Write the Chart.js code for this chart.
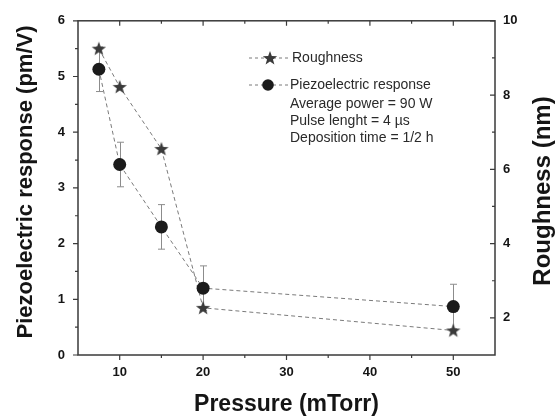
<!DOCTYPE html>
<html>
<head>
<meta charset="utf-8">
<script src="https://cdn.jsdelivr.net/npm/chart.js@4.4.1/dist/chart.umd.min.js"></script>
<style>
  html, body { margin: 0; padding: 0; background: #fff; }
  #wrap { width: 559px; height: 419px; }
</style>
</head>
<body>
<div id="wrap"><canvas id="chart" width="559" height="419"></canvas></div>
<script>
/* ─── Datos ───────────────────────────────────────── */
const pressure   = [7.5, 10, 15, 20, 50];          // mTorr
const piezo      = [5.13, 3.42, 2.3, 1.2, 0.87];   // pm/V
const piezoErr   = [0.4, 0.4, 0.4, 0.4, 0.4];
const roughness  = [9.25, 8.22, 6.55, 2.27, 1.66]; // nm

const xTicks  = [10, 20, 30, 40, 50];
const xMinor  = [15, 25, 35, 45];
const yTicks  = [0, 1, 2, 3, 4, 5, 6];
const yMinor  = [0.5, 1.5, 2.5, 3.5, 4.5, 5.5];
const rTicks  = [2, 4, 6, 8, 10];
const rMinor  = [3, 5, 7, 9];

const legendNotes = ['Average power = 90 W', 'Pulse lenght = 4 \u00b5s', 'Deposition time = 1/2 h'];

/* ─── Estilo ──────────────────────────────────────── */
const FONT = "'Liberation Sans', Arial, sans-serif";
const INK = '#151515';
const LINE = '#7a7a7a';
const STAR_COLOR = '#3a3a3a';
const DOT_COLOR = '#1b1b1b';

// estrella rellena de 5 puntas como pointStyle
function makeStar(size, rOut, rIn, color) {
  const c = document.createElement('canvas');
  c.width = size; c.height = size;
  const g = c.getContext('2d');
  const cx = size / 2, cy = size / 2 + 0.5;
  g.beginPath();
  for (let i = 0; i < 10; i++) {
    const r = i % 2 === 0 ? rOut : rIn;
    const a = -Math.PI / 2 + i * Math.PI / 5;
    const px = cx + r * Math.cos(a), py = cy + r * Math.sin(a);
    i === 0 ? g.moveTo(px, py) : g.lineTo(px, py);
  }
  g.closePath();
  g.fillStyle = color;
  g.fill();
  return c;
}
const starImg = makeStar(18, 7.5, 3.1, STAR_COLOR);

const toXY = (xs, ys) => xs.map((x, i) => ({ x, y: ys[i] }));
const fixedTicks = list => s => { s.ticks = list.map(v => ({ value: v })); };

/* ─── Plugin: barras de error, marco, ticks, leyenda ─ */
const decor = {
  id: 'decor',
  beforeDatasetsDraw(chart) {
    const { ctx, scales: { x, y } } = chart;
    ctx.save();
    ctx.strokeStyle = '#8c8c8c';
    ctx.lineWidth = 1;
    pressure.forEach((p, i) => {
      const px = Math.round(x.getPixelForValue(p)) + 0.5;
      const yt = y.getPixelForValue(piezo[i] + piezoErr[i]);
      const yb = y.getPixelForValue(piezo[i] - piezoErr[i]);
      ctx.beginPath();
      ctx.moveTo(px, yt); ctx.lineTo(px, yb);
      ctx.moveTo(px - 3.5, yt); ctx.lineTo(px + 3.5, yt);
      ctx.moveTo(px - 3.5, yb); ctx.lineTo(px + 3.5, yb);
      ctx.stroke();
    });
    ctx.restore();
  },
  afterDraw(chart) {
    const { ctx, chartArea: a, scales: { x, y, y1 } } = chart;
    ctx.save();
    ctx.strokeStyle = '#3a3a3a';
    ctx.lineWidth = 1.5;
    ctx.strokeRect(a.left, a.top, a.right - a.left, a.bottom - a.top);

    const tick = (x0, y0, x1, y1_) => { ctx.moveTo(x0, y0); ctx.lineTo(x1, y1_); };
    ctx.lineWidth = 1.2;
    ctx.beginPath();
    // eje x: hacia fuera abajo, hacia dentro arriba
    xTicks.forEach(v => { const px = x.getPixelForValue(v); tick(px, a.bottom, px, a.bottom + 5); tick(px, a.top, px, a.top + 5); });
    xMinor.forEach(v => { const px = x.getPixelForValue(v); tick(px, a.bottom, px, a.bottom + 3); tick(px, a.top, px, a.top + 3); });
    // eje izquierdo: hacia fuera
    yTicks.forEach(v => { const py = y.getPixelForValue(v); tick(a.left - 5, py, a.left, py); });
    yMinor.forEach(v => { const py = y.getPixelForValue(v); tick(a.left - 3, py, a.left, py); });
    // eje derecho: hacia dentro
    rTicks.forEach(v => { const py = y1.getPixelForValue(v); tick(a.right - 5, py, a.right, py); });
    rMinor.forEach(v => { const py = y1.getPixelForValue(v); tick(a.right - 3, py, a.right, py); });
    ctx.stroke();

    // títulos verticales (ambos leídos de abajo arriba)
    ctx.fillStyle = INK;
    ctx.textAlign = 'center';
    ctx.textBaseline = 'middle';
    const vTitle = (text, cx, cy, size) => {
      ctx.save();
      ctx.translate(cx, cy);
      ctx.rotate(-Math.PI / 2);
      ctx.font = 'bold ' + size + 'px ' + FONT;
      ctx.fillText(text, 0, 0);
      ctx.restore();
    };
    vTitle('Piezoelectric response (pm/V)', 26, 182, 22);
    vTitle('Roughness (nm)', 543, 191, 24);

    // leyenda
    ctx.strokeStyle = LINE;
    ctx.lineWidth = 1;
    ctx.setLineDash([3, 3]);
    ctx.beginPath();
    ctx.moveTo(249, 58); ctx.lineTo(288, 58);
    ctx.moveTo(249, 85); ctx.lineTo(288, 85);
    ctx.stroke();
    ctx.setLineDash([]);
    ctx.drawImage(starImg, 270 - 9, 58 - 9);
    ctx.fillStyle = DOT_COLOR;
    ctx.beginPath(); ctx.arc(268, 85, 5.8, 0, Math.PI * 2); ctx.fill();

    ctx.fillStyle = '#2a2a2a';
    ctx.font = '14px ' + FONT;
    ctx.textBaseline = 'middle';
    ctx.textAlign = 'left';
    ctx.fillText('Roughness', 292, 58);
    ctx.fillText('Piezoelectric response', 290, 85);
    legendNotes.forEach((t, i) => ctx.fillText(t, 290, 104 + i * 17));
    ctx.restore();
  }
};

/* ─── Gráfica ─────────────────────────────────────── */
new Chart(document.getElementById('chart'), {
  type: 'scatter',
  data: {
    datasets: [
      {
        label: 'Piezoelectric response',
        data: toXY(pressure, piezo),
        yAxisID: 'y',
        showLine: true,
        borderColor: LINE,
        borderWidth: 1,
        borderDash: [4, 3],
        pointStyle: 'circle',
        pointRadius: 6.5,
        pointBackgroundColor: DOT_COLOR,
        pointBorderColor: DOT_COLOR,
        pointBorderWidth: 0,
      },
      {
        label: 'Roughness',
        data: toXY(pressure, roughness),
        yAxisID: 'y1',
        showLine: true,
        borderColor: LINE,
        borderWidth: 1,
        borderDash: [4, 3],
        pointStyle: starImg,
        pointRadius: 8,
      },
    ],
  },
  options: {
    responsive: false,
    animation: false,
    layout: { padding: { top: 19, left: 0, right: 0, bottom: 0 } },
    plugins: { legend: { display: false }, tooltip: { enabled: false } },
    scales: {
      x: {
        type: 'linear', min: 5, max: 55,
        afterBuildTicks: fixedTicks(xTicks),
        afterFit: s => { s.height = 64; },
        grid: { display: false, drawTicks: false },
        border: { display: false },
        ticks: { color: INK, padding: 10, font: { family: FONT, size: 13, weight: 'bold' } },
        title: {
          display: true, text: 'Pressure (mTorr)', color: INK,
          padding: { top: 0, bottom: 1 },
          font: { family: FONT, size: 23, weight: 'bold' },
        },
      },
      y: {
        type: 'linear', position: 'left', min: 0, max: 6,
        afterBuildTicks: fixedTicks(yTicks),
        afterFit: s => { s.width = 78; },
        grid: { display: false, drawTicks: false },
        border: { display: false },
        ticks: { color: INK, padding: 13, font: { family: FONT, size: 13, weight: 'bold' } },
      },
      y1: {
        type: 'linear', position: 'right', min: 1, max: 10,
        afterBuildTicks: fixedTicks(rTicks),
        afterFit: s => { s.width = 64; },
        grid: { display: false, drawTicks: false },
        border: { display: false },
        ticks: { color: INK, padding: 8, font: { family: FONT, size: 13, weight: 'bold' } },
      },
    },
  },
  plugins: [decor],
});
</script>
</body>
</html>
